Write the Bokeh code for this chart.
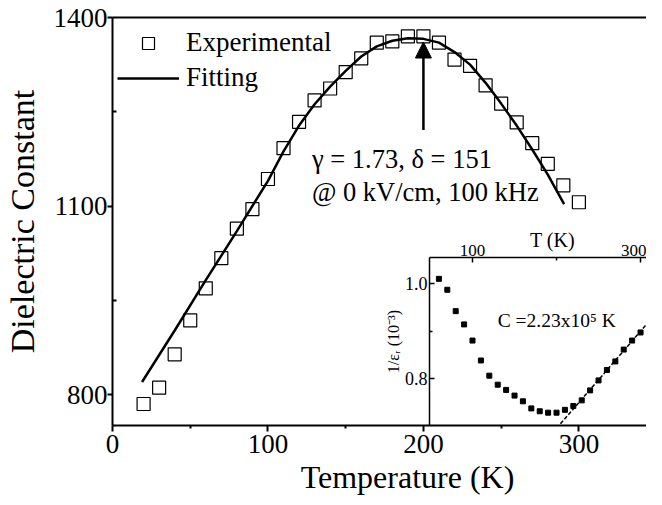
from bokeh.plotting import figure
from bokeh.models import (LinearAxis, FixedTicker, Legend, LegendItem, Label, Arrow,
                          NormalHead, GridBox, Range1d, PrintfTickFormatter)
from bokeh.embed import file_html
from bokeh.resources import INLINE

FONT = "Liberation Serif"

# ---- main panel data ----
temp_exp = [20, 30, 40, 50, 60, 70, 80, 90, 100, 110, 120, 130, 140, 150, 160,
            170, 180, 190, 200, 210, 220, 230, 240, 250, 260, 270, 280, 290, 300]
eps_exp = [785, 811, 864, 918, 969, 1017, 1064, 1095, 1143, 1192, 1234, 1268, 1287,
           1313, 1335, 1360, 1362, 1370, 1370, 1360, 1333, 1323, 1292, 1263, 1233,
           1200, 1167, 1133, 1106]

fit_temp = [19, 40, 60, 80, 100, 110, 120, 130, 140, 150, 160, 170, 180, 190, 200,
            210, 220, 230, 240, 250, 260, 270, 280, 290.5]
fit_eps = [820, 902, 982, 1060, 1140, 1187, 1228, 1262, 1290, 1315, 1338, 1354, 1363,
           1367, 1366, 1360, 1345, 1325, 1296, 1263, 1228, 1190, 1150, 1103]

x_ticks = [0, 100, 200, 300]
x_minor = [50, 150, 250]
y_ticks = [800, 1100, 1400]
y_minor = [950, 1250]

arrow_temp = 200
arrow_from = 1221
arrow_to = 1361

# ---- inset data ----
inset_temp = [60, 70, 80, 90, 100, 110, 120, 130, 140, 150, 160, 170, 180, 190, 200,
              210, 220, 230, 240, 250, 260, 270, 280, 290, 300]
inset_inv = [1.010, 0.987, 0.942, 0.914, 0.880, 0.838, 0.806, 0.787, 0.776, 0.764,
             0.752, 0.737, 0.731, 0.728, 0.728, 0.734, 0.742, 0.754, 0.775, 0.796,
             0.818, 0.836, 0.861, 0.880, 0.897]
cw_temp = [200, 310]
cw_inv = [0.695, 0.920]
inset_x_ticks = [100, 300]
inset_x_minor = [200]
inset_y_ticks = [0.8, 1.0]
inset_y_minor = [0.9]

W, H = 646, 497
NB = "\u00a0"

p = figure(width=W, height=H, x_range=Range1d(0, 343.5), y_range=Range1d(750.8, 1400),
           output_backend="svg", toolbar_location=None,
           min_border_left=105, min_border_right=0, min_border_top=17, min_border_bottom=71)
p.outline_line_color = None
p.xgrid.visible = False
p.ygrid.visible = False
p.background_fill_color = "white"
p.border_fill_color = "white"

xa = p.xaxis[0]
xa.ticker = FixedTicker(ticks=x_ticks, minor_ticks=x_minor)
xa.axis_line_width = 2
xa.major_tick_line_width = 2
xa.minor_tick_line_width = 2
xa.major_tick_out = 6
xa.major_tick_in = 0
xa.minor_tick_out = 3
xa.minor_tick_in = 0
xa.major_label_standoff = 3
xa.major_label_text_font = FONT
xa.major_label_text_font_size = "27px"
xa.major_label_text_color = "black"
xa.axis_label = NB * 7 + "Temperature (K)"
xa.axis_label_text_font = FONT
xa.axis_label_text_font_size = "32px"
xa.axis_label_text_font_style = "normal"
xa.axis_label_text_color = "black"
xa.axis_label_standoff = 3

ya = p.yaxis[0]
ya.ticker = FixedTicker(ticks=y_ticks, minor_ticks=y_minor)
ya.axis_line_width = 2
ya.major_tick_line_width = 2
ya.minor_tick_line_width = 2
ya.major_tick_out = 5
ya.major_tick_in = 0
ya.minor_tick_out = 0
ya.minor_tick_in = 4
ya.major_label_standoff = 0
ya.major_label_text_font = FONT
ya.major_label_text_font_size = "27px"
ya.major_label_text_color = "black"
ya.axis_label = "Dielectric Constant"
ya.axis_label_text_font = FONT
ya.axis_label_text_font_size = "34px"
ya.axis_label_text_font_style = "normal"
ya.axis_label_text_color = "black"
ya.axis_label_standoff = 10

top = LinearAxis(ticker=FixedTicker(ticks=[]), major_label_text_font_size="0px",
                 major_tick_out=0, major_tick_in=0, minor_tick_out=0, minor_tick_in=0,
                 major_label_standoff=0, axis_line_width=2)
p.add_layout(top, "above")

r_exp = p.scatter(temp_exp, eps_exp, marker="square", size=13, fill_alpha=0,
                  line_color="black", line_width=1.2)
r_fit = p.line(fit_temp, fit_eps, line_width=2.5, color="black")
p.renderers = [r_fit, r_exp]

legend = Legend(items=[LegendItem(label="Experimental", renderers=[r_exp]),
                       LegendItem(label="Fitting", renderers=[r_fit])],
                location=(5, 332), glyph_width=62, glyph_height=30, label_height=30,
                spacing=4, padding=0, margin=0, label_standoff=7,
                label_text_font=FONT, label_text_font_size="27px", label_text_color="black",
                border_line_color=None, background_fill_alpha=0)
p.add_layout(legend)

p.add_layout(Arrow(end=NormalHead(size=16, fill_color="black", line_color="black"),
                   x_start=arrow_temp, y_start=arrow_from, x_end=arrow_temp, y_end=arrow_to,
                   line_width=2.5, line_color="black"))

p.add_layout(Label(x=128.3, y=1174.6, text="\u03b3 = 1.73, \u03b4 = 151", text_baseline="middle",
                   text_font=FONT, text_font_size="26.5px", text_color="black"))
p.add_layout(Label(x=128.3, y=1122, text="@ 0 kV/cm, 100 kHz", text_baseline="middle",
                   text_font=FONT, text_font_size="26.5px", text_color="black"))
# inset's top-axis title (drawn by the main figure, shows through the transparent inset)
p.add_layout(Label(x=440, y=186, x_units="screen", y_units="screen", text="T (K)",
                   text_align="center", text_baseline="middle",
                   text_font=FONT, text_font_size="20px", text_color="black"))

# ---- inset ----
inset = figure(width=276, height=202, x_range=Range1d(48.8, 307.1), y_range=Range1d(0.701, 1.055),
               output_backend="svg", toolbar_location=None,
               x_axis_location="above", y_axis_location="left",
               min_border_left=59, min_border_right=0, min_border_top=34, min_border_bottom=0)
inset.outline_line_color = None
inset.xgrid.visible = False
inset.ygrid.visible = False
inset.background_fill_alpha = 0
inset.border_fill_alpha = 0

ia = inset.xaxis[0]
ia.ticker = FixedTicker(ticks=inset_x_ticks, minor_ticks=inset_x_minor)
ia.axis_line_width = 1.5
ia.major_tick_line_width = 1.5
ia.minor_tick_line_width = 1.5
ia.major_tick_in = 5
ia.major_tick_out = 0
ia.minor_tick_in = 3
ia.minor_tick_out = 0
ia.major_label_standoff = 2
ia.major_label_text_font = FONT
ia.major_label_text_font_size = "17px"
ia.major_label_text_color = "black"

iy = inset.yaxis[0]
iy.ticker = FixedTicker(ticks=inset_y_ticks, minor_ticks=inset_y_minor)
iy.formatter = PrintfTickFormatter(format="%.1f")
iy.axis_line_width = 1.5
iy.major_tick_line_width = 1.5
iy.minor_tick_line_width = 1.5
iy.major_tick_in = 5
iy.major_tick_out = 0
iy.minor_tick_in = 3
iy.minor_tick_out = 0
iy.major_label_standoff = 2
iy.major_label_text_font = FONT
iy.major_label_text_font_size = "18px"
iy.major_label_text_color = "black"
iy.axis_label = "1/\u03b5\u1d63 (10\u207b\u00b3)"
iy.axis_label_text_font = FONT
iy.axis_label_text_font_size = "16px"
iy.axis_label_text_font_style = "normal"
iy.axis_label_text_color = "black"
iy.axis_label_standoff = 0

inset.scatter(inset_temp, inset_inv, marker="square", size=5, color="black")
inset.line(cw_temp, cw_inv, line_dash="4 2", line_width=1.5, color="black")
inset.add_layout(Label(x=130, y=0.922, text="C =2.23x10\u2075 K", text_baseline="middle",
                       text_font=FONT, text_font_size="19.5px", text_color="black"))

grid = GridBox(children=[(p, 0, 0, 3, 2), (inset, 1, 1, 1, 1)],
               rows=["223px", "202px", "72px"], cols=["370px", "276px"])

open("out.html", "w").write(file_html(grid, INLINE))
